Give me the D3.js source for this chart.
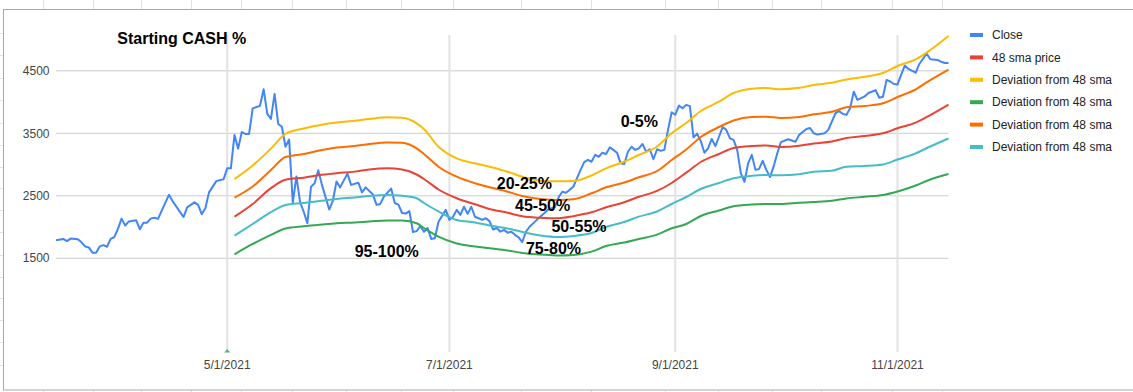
<!DOCTYPE html>
<html><head><meta charset="utf-8">
<script src="https://cdn.jsdelivr.net/npm/d3@7"></script>
<style>
html,body{margin:0;padding:0;background:#fff;}
svg{display:block;font-family:"Liberation Sans",Arial,sans-serif;}
</style>
</head><body>
<svg id="chart" width="1133" height="392"></svg>
<script>
// ---------- DATA ----------
const title = "Starting CASH %";

const closeDates = [
  "2021-03-15","2021-03-17","2021-03-18","2021-03-19","2021-03-21","2021-03-22","2021-03-23","2021-03-24","2021-03-25","2021-03-26","2021-03-27","2021-03-28","2021-03-29","2021-03-30","2021-03-31",
  "2021-04-01","2021-04-02","2021-04-03","2021-04-04","2021-04-06","2021-04-07","2021-04-08","2021-04-09","2021-04-10","2021-04-11","2021-04-12","2021-04-15","2021-04-16","2021-04-19","2021-04-20","2021-04-22","2021-04-23","2021-04-24","2021-04-25","2021-04-26","2021-04-28","2021-04-30",
  "2021-05-01","2021-05-02","2021-05-03","2021-05-04","2021-05-05","2021-05-06","2021-05-07","2021-05-08","2021-05-10","2021-05-11","2021-05-12","2021-05-13","2021-05-14","2021-05-15","2021-05-16","2021-05-17","2021-05-18","2021-05-19","2021-05-20","2021-05-21","2021-05-22","2021-05-23","2021-05-24","2021-05-25","2021-05-26","2021-05-27","2021-05-29","2021-05-30","2021-05-31",
  "2021-06-01","2021-06-03","2021-06-04","2021-06-06","2021-06-07","2021-06-08","2021-06-10","2021-06-11","2021-06-12","2021-06-13","2021-06-14","2021-06-15","2021-06-16","2021-06-17","2021-06-18","2021-06-19","2021-06-20","2021-06-21","2021-06-22","2021-06-23","2021-06-24","2021-06-25","2021-06-26","2021-06-27","2021-06-28","2021-06-30",
  "2021-07-01","2021-07-02","2021-07-03","2021-07-04","2021-07-05","2021-07-06","2021-07-07","2021-07-08","2021-07-09","2021-07-10","2021-07-11","2021-07-12","2021-07-13","2021-07-14","2021-07-15","2021-07-16","2021-07-17","2021-07-18","2021-07-19","2021-07-20","2021-07-21","2021-07-22","2021-07-23","2021-07-25","2021-07-27","2021-07-28","2021-07-30","2021-07-31",
  "2021-08-01","2021-08-02","2021-08-03","2021-08-04","2021-08-05","2021-08-06","2021-08-07","2021-08-08","2021-08-09","2021-08-10","2021-08-11","2021-08-12","2021-08-13","2021-08-14","2021-08-15","2021-08-16","2021-08-17","2021-08-18","2021-08-19","2021-08-20","2021-08-21","2021-08-22","2021-08-23","2021-08-24","2021-08-25","2021-08-26","2021-08-27","2021-08-28","2021-08-29","2021-08-30","2021-08-31",
  "2021-09-01","2021-09-02","2021-09-03","2021-09-04","2021-09-05","2021-09-06","2021-09-07","2021-09-08","2021-09-09","2021-09-10","2021-09-11","2021-09-12","2021-09-13","2021-09-14","2021-09-15","2021-09-16","2021-09-17","2021-09-18","2021-09-19","2021-09-20","2021-09-21","2021-09-22","2021-09-23","2021-09-24","2021-09-25","2021-09-26","2021-09-27","2021-09-28","2021-09-29","2021-09-30",
  "2021-10-02","2021-10-04","2021-10-05","2021-10-07","2021-10-08","2021-10-09","2021-10-10","2021-10-12","2021-10-13","2021-10-15","2021-10-16","2021-10-17","2021-10-18","2021-10-19","2021-10-20","2021-10-21","2021-10-23","2021-10-24","2021-10-26","2021-10-27","2021-10-28","2021-10-29","2021-10-30","2021-10-31",
  "2021-11-01","2021-11-02","2021-11-03","2021-11-04","2021-11-06","2021-11-07","2021-11-09","2021-11-10","2021-11-12","2021-11-13","2021-11-14","2021-11-15"
];
const closeValues = [
  1790,1810,1775,1815,1805,1755,1690,1675,1590,1590,1690,1710,1685,1810,1840,
  1970,2135,2025,2090,2110,1965,2070,2070,2135,2150,2130,2515,2415,2160,2315,2395,2355,2205,2300,2555,2735,2765,
  2940,2940,3475,3255,3520,3490,3490,3900,3940,4205,3810,3730,4130,3650,3605,3285,3400,2385,2810,2400,2245,2060,2645,2700,2910,2675,2280,2420,2730,
  2635,2855,2675,2710,2555,2635,2520,2355,2370,2485,2550,2615,2385,2360,2225,2215,2255,1920,1935,2015,1925,1985,1810,1820,2085,2275,
  2115,2165,2275,2195,2325,2210,2325,2165,2140,2115,2140,2095,1960,1985,1925,1955,1910,1925,1875,1835,1760,1925,2005,2115,2220,2275,2325,2480,
  2565,2550,2595,2645,2780,2915,3040,3075,3045,3155,3125,3190,3170,3275,3235,3190,3020,3010,3205,3285,3235,3260,3330,3205,3245,3085,3245,3220,3235,3555,3835,
  3800,3945,3900,3955,3935,3435,3495,3375,3190,3260,3410,3295,3445,3600,3555,3420,3395,3235,2860,2725,3020,3155,2915,2930,3060,2915,2800,2970,3180,3360,
  3405,3365,3475,3570,3585,3500,3480,3500,3555,3825,3855,3810,3795,3905,4165,4035,4090,4145,4190,4070,4085,4355,4330,4290,
  4280,4435,4585,4530,4470,4610,4775,4685,4675,4645,4625,4625
];

const smaDates = [
  "2021-05-03","2021-05-08","2021-05-13","2021-05-17","2021-05-22","2021-05-27","2021-05-31",
  "2021-06-05","2021-06-09","2021-06-14","2021-06-18","2021-06-22","2021-06-24","2021-06-28",
  "2021-07-03","2021-07-08","2021-07-12","2021-07-17","2021-07-21","2021-07-26","2021-07-31",
  "2021-08-04","2021-08-09","2021-08-13","2021-08-18","2021-08-22","2021-08-27","2021-08-31",
  "2021-09-04","2021-09-08","2021-09-13","2021-09-17","2021-09-22","2021-09-26","2021-09-30",
  "2021-10-05","2021-10-09","2021-10-14","2021-10-18","2021-10-23","2021-10-28",
  "2021-11-01","2021-11-06","2021-11-10","2021-11-15"
];
const sma48 = [2166,2369,2622,2756,2790,2836,2862,2887,2922,2940,2922,2841,2769,2601,2460,2364,2289,2228,2172,2148,2140,2174,2236,2316,2396,2484,2578,2705,2870,3041,3169,3265,3297,3305,3281,3300,3337,3369,3425,3457,3500,3580,3670,3793,3961];
const devYellow = [2769,2985,3255,3490,3577,3638,3672,3702,3729,3756,3748,3660,3569,3286,3100,3020,2966,2886,2806,2742,2732,2737,2825,2940,3046,3153,3289,3500,3665,3857,4006,4145,4212,4225,4204,4228,4273,4308,4361,4406,4465,4577,4684,4833,5057];
const devGreen = [1564,1729,1874,1978,2014,2041,2060,2074,2089,2106,2105,2060,1985,1846,1737,1689,1660,1625,1585,1561,1545,1553,1606,1697,1753,1809,1879,1980,2049,2177,2265,2334,2361,2369,2369,2388,2401,2422,2457,2484,2513,2569,2665,2761,2849];
const devOrange = [2470,2649,2913,3121,3169,3233,3273,3297,3329,3353,3350,3260,3169,2966,2806,2700,2636,2566,2497,2449,2433,2444,2540,2636,2713,2796,2897,3073,3241,3441,3601,3705,3761,3766,3745,3761,3804,3844,3916,3937,3980,4081,4204,4353,4521];
const devTeal = [1862,2049,2239,2353,2385,2420,2450,2473,2497,2513,2500,2460,2385,2249,2113,2073,2025,1977,1921,1865,1841,1857,1905,2001,2081,2166,2249,2369,2481,2609,2705,2780,2820,2833,2828,2846,2886,2902,2966,2977,3001,3081,3180,3289,3417];

const seriesNames = ["Close","48 sma price","Deviation from 48 sma","Deviation from 48 sma","Deviation from 48 sma","Deviation from 48 sma"];
const seriesColors = ["#4285f4","#ea4335","#fbbc04","#34a853","#ff6d01","#46bdc6"];

const yTicks = [1500,2500,3500,4500];
const xTickDates = ["2021-05-01","2021-07-01","2021-09-01","2021-11-01"];
const xTickLabels = ["5/1/2021","7/1/2021","9/1/2021","11/1/2021"];

const annotationLabels = ["0-5%","20-25%","45-50%","50-55%","75-80%","95-100%"];
const annotationDates = ["2021-08-17","2021-07-14","2021-07-19","2021-07-29","2021-07-22","2021-06-05"];
const annotationValues = [3605,2615,2250,1920,1570,1520];

// ---------- DRAW ----------
const svg = d3.select("#chart");
const parse = d3.utcParse("%Y-%m-%d");

// spreadsheet background cells
const sheet = svg.append("g");
[43,93,141,191,241,292,346,401,453,521,591,665,718,772,821,892,942].forEach(cx => {
  sheet.append("line").attr("x1",cx+0.5).attr("x2",cx+0.5).attr("y1",0).attr("y2",9).attr("stroke","#e2e2e2");
  sheet.append("line").attr("x1",cx+0.5).attr("x2",cx+0.5).attr("y1",390).attr("y2",392).attr("stroke","#e2e2e2");
});
[33,55,78,100,123,145,167,188,210,232,255,277,298,320,342,365].forEach(ry => {
  sheet.append("line").attr("x1",0).attr("x2",3).attr("y1",ry+0.5).attr("y2",ry+0.5).attr("stroke","#e2e2e2");
});
// chart frame
svg.append("rect").attr("x",3.5).attr("y",9.5).attr("width",1140).attr("height",380.5)
  .attr("fill","#fff").attr("stroke","#a8a8a8");

const closeData = closeDates.map((d,i)=>({date:parse(d), value:closeValues[i]}));
const x = d3.scaleUtc()
  .domain(d3.extent(closeData, d=>d.date))
  .range([56, 948.5]);
const y = d3.scaleLinear().domain([0,5000]).range([352, 39.6]);

// horizontal gridlines
svg.append("g").selectAll("line").data(yTicks).join("line")
  .attr("x1", x.range()[0]).attr("x2", x.range()[1])
  .attr("y1", d=>y(d)).attr("y2", d=>y(d))
  .attr("stroke","#cccccc").attr("stroke-width",1);

// vertical date gridlines
svg.append("g").selectAll("line").data(xTickDates).join("line")
  .attr("x1", d=>x(parse(d))).attr("x2", d=>x(parse(d)))
  .attr("y1", 35).attr("y2", y(0))
  .attr("stroke","#e2e2e2").attr("stroke-width",2);

// y labels
svg.append("g").selectAll("text").data(yTicks).join("text")
  .attr("x", 49.5).attr("y", d=>y(d)).attr("dy","0.35em")
  .attr("text-anchor","end").attr("font-size",12).attr("fill","#444")
  .text(d=>d);

// x labels
svg.append("g").selectAll("text").data(xTickDates).join("text")
  .attr("x", d=>x(parse(d))).attr("y", 369)
  .attr("text-anchor","middle").attr("font-size",12).attr("fill","#444")
  .text((d,i)=>xTickLabels[i]);

// small marker at axis
{
  const mx = x(parse(xTickDates[0])), my = y(0);
  svg.append("path").attr("d",`M${mx-3},${my+0.5} L${mx+3},${my+0.5} L${mx},${my-3} Z`).attr("fill","#4db38e");
}

// series
const lineLinear = d3.line().x(d=>x(d.date)).y(d=>y(d.value));
const lineSmooth = d3.line().x(d=>x(d.date)).y(d=>y(d.value)).curve(d3.curveMonotoneX);
const smaSeries = [sma48, devYellow, devGreen, devOrange, devTeal];

svg.append("path").datum(closeData).attr("d", lineLinear)
  .attr("fill","none").attr("stroke",seriesColors[0]).attr("stroke-width",2)
  .attr("stroke-linejoin","round");

smaSeries.forEach((vals, k) => {
  const data = smaDates.map((d,i)=>({date:parse(d), value:vals[i]}));
  svg.append("path").datum(data).attr("d", lineSmooth)
    .attr("fill","none").attr("stroke",seriesColors[k+1]).attr("stroke-width",2)
    .attr("stroke-linejoin","round");
});

// title
svg.append("text").attr("x",117.3).attr("y",44.3)
  .attr("font-size",16).attr("font-weight","bold").attr("fill","#000")
  .text(title);

// annotations
svg.append("g").selectAll("text").data(annotationLabels).join("text")
  .attr("x",(d,i)=>x(parse(annotationDates[i])))
  .attr("y",(d,i)=>y(annotationValues[i]))
  .attr("font-size",16).attr("font-weight","bold").attr("fill","#000")
  .text(d=>d);

// legend
const lg = svg.append("g");
seriesNames.forEach((name,i)=>{
  const cy = 35 + i*22.4;
  lg.append("rect").attr("x",970).attr("y",cy-2).attr("width",13).attr("height",4).attr("fill",seriesColors[i]);
  lg.append("text").attr("x",992).attr("y",cy).attr("dy","0.35em")
    .attr("font-size",12).attr("fill","#222").text(name);
});
</script>
</body></html>
